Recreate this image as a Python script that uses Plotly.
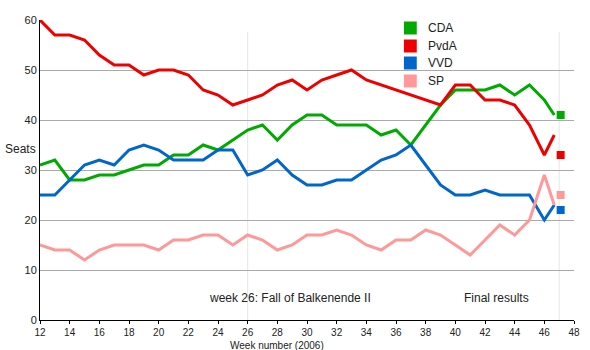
import plotly.graph_objects as go

weeks = list(range(12, 47)) + [46.67]
cda = [31, 32, 28, 28, 29, 29, 30, 31, 31, 33, 33, 35, 34, 36, 38, 39, 36, 39, 41, 41, 39, 39, 39, 37, 38, 35, 39, 43, 46, 46, 46, 47, 45, 47, 44, 41]
pvda = [60, 57, 57, 56, 53, 51, 51, 49, 50, 50, 49, 46, 45, 43, 44, 45, 47, 48, 46, 48, 49, 50, 48, 47, 46, 45, 44, 43, 47, 47, 44, 44, 43, 39, 33, 37]
vvd = [25, 25, 28, 31, 32, 31, 34, 35, 34, 32, 32, 32, 34, 34, 29, 30, 32, 29, 27, 27, 28, 28, 30, 32, 33, 35, 31, 27, 25, 25, 26, 25, 25, 25, 20, 23]
sp = [15, 14, 14, 12, 14, 15, 15, 15, 14, 16, 16, 17, 17, 15, 17, 16, 14, 15, 17, 17, 18, 17, 15, 14, 16, 16, 18, 17, 15, 13, 16, 19, 17, 20, 29, 23]

parties = ["CDA", "PvdA", "VVD", "SP"]
series = [cda, pvda, vvd, sp]
colors = ["#00aa00", "#ee0000", "#0066cc", "#ff9999"]
final_week = 47.1
final_results = [41, 33, 22, 25]

x_ticks = list(range(12, 49, 2))
y_ticks = list(range(0, 61, 10))
events = [(26, "week 26: Fall of Balkenende II", 28.87), (47, "Final results", 42.8)]

FONT = "Liberation Sans, Arial, sans-serif"
FS = 11

fig = go.Figure()
for wk, _, _ in events:
    fig.add_shape(type="line", x0=wk, x1=wk, y0=0, y1=57.6, xref="x", yref="y",
                  line=dict(color="#e6e6e6", width=1), layer="below")

for name, vals, col in zip(parties, series, colors):
    fig.add_trace(go.Scatter(x=weeks, y=vals, mode="lines", name=name,
                             line=dict(color=col, width=3), showlegend=False))

for name, v, col in zip(parties, final_results, colors):
    fig.add_trace(go.Scatter(x=[final_week], y=[v], mode="markers",
                             marker=dict(symbol="square", size=8, color=col),
                             showlegend=False, cliponaxis=False))

leg_y = [28, 46, 63, 81]
for name, col, py in zip(parties, colors, leg_y):
    fig.add_shape(type="rect", xref="paper", yref="paper",
                  x0=(408 - 40) / 540, x1=(421 - 40) / 540,
                  y0=(320 - py - 6.5) / 300, y1=(320 - py + 6.5) / 300,
                  fillcolor=col, line=dict(width=0))
    fig.add_annotation(text=name, xref="paper", yref="paper",
                       x=(430 - 40) / 540, y=(320 - py) / 300,
                       xanchor="left", yanchor="middle", showarrow=False,
                       font=dict(size=FS + 1, color="#222", family=FONT))

for wk, label, xc in events:
    fig.add_annotation(text=label, x=xc, y=4.4, xref="x", yref="y",
                       showarrow=False, xanchor="center", yanchor="middle",
                       font=dict(size=FS + 1, color="#222", family=FONT))

fig.add_annotation(text="Seats", xref="paper", yref="y", x=(3 - 40) / 540, y=34.2,
                   xanchor="left", yanchor="middle", showarrow=False,
                   font=dict(size=FS + 1, color="#222", family=FONT))
fig.add_annotation(text="Week number (2006)", xref="paper", yref="paper",
                   x=(280 - 40) / 540, y=-(345 - 320) / 300,
                   xanchor="center", yanchor="middle", showarrow=False,
                   font=dict(size=10, color="#222", family=FONT))

fig.update_layout(
    width=590, height=350,
    margin=dict(l=40, r=10, t=20, b=30),
    plot_bgcolor="white", paper_bgcolor="white",
    font=dict(family=FONT, size=FS, color="#222"),
    showlegend=False,
    xaxis=dict(range=[12, 48], tickvals=x_ticks, showgrid=False, zeroline=False,
               showline=True, linecolor="black", linewidth=1,
               ticks="outside", ticklen=3, tickcolor="black", tickfont=dict(size=10)),
    yaxis=dict(range=[0, 60], tickvals=y_ticks, showgrid=True, gridcolor="#aaaaaa",
               gridwidth=1, zeroline=False, showline=True, linecolor="black",
               linewidth=1, ticks="", tickfont=dict(size=FS)),
)

fig.write_html("out.html")
